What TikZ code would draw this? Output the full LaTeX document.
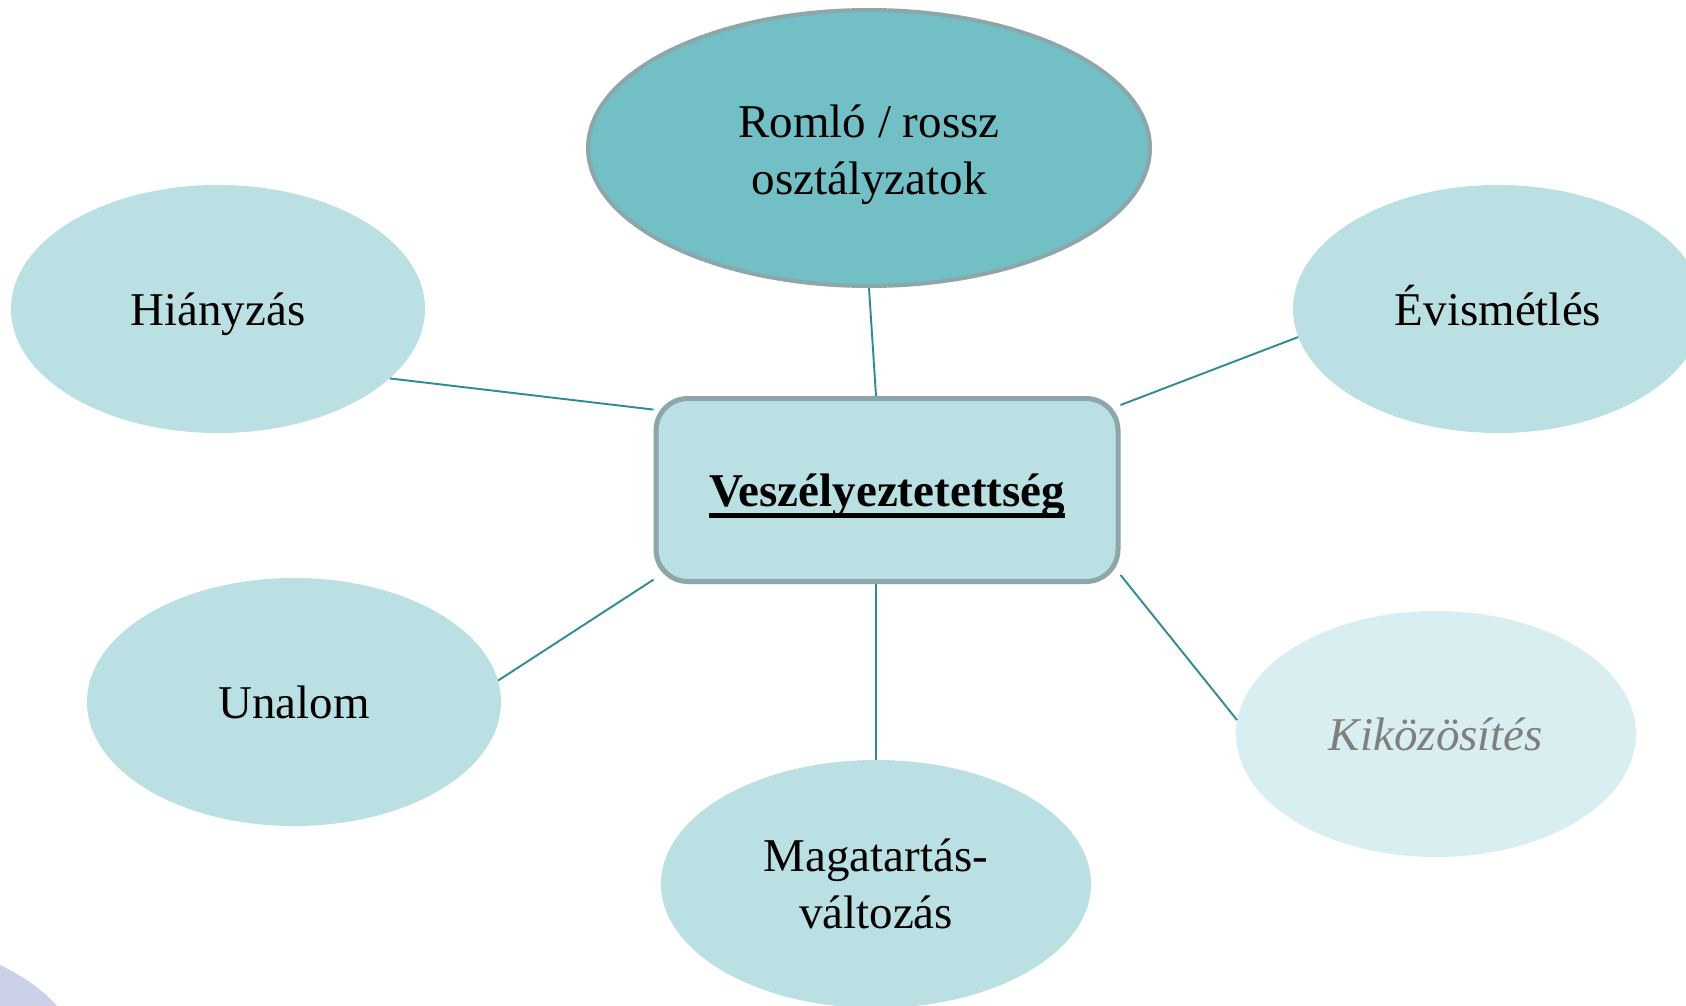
\documentclass[tikz,border=0pt]{standalone}
\usepackage{fontspec}
\setmainfont{Liberation Serif}
\usetikzlibrary{shapes.geometric}
\newcommand{\thickul}[1]{\setbox0\hbox{#1}\rlap{\raisebox{-11.5pt}{\rule{\wd0}{4.5pt}}}\box0}
\definecolor{ellfill}{HTML}{BAE0E3}
\definecolor{topfill}{HTML}{72BFC5}
\definecolor{palefill}{HTML}{D9EEF0}
\definecolor{bordgray}{HTML}{8CA6A9}
\definecolor{linkcol}{HTML}{2E8B92}
\definecolor{greytext}{HTML}{7F7F7F}
\definecolor{lavender}{HTML}{C9D0E8}
\tikzset{
  bigfont/.style={font=\fontsize{47}{57}\selectfont},
  bubble/.style={ellipse, fill=ellfill, draw=none, inner sep=0pt, align=center, bigfont},
  oneline/.style={text height=32pt, text depth=0pt},
  topbubble/.style={bubble, fill=topfill, draw=bordgray, line width=4pt},
  palebubble/.style={bubble, fill=palefill, text=greytext},
  centerbox/.style={rectangle, rounded corners=32pt, fill=ellfill, draw=bordgray, line width=5pt, inner sep=0pt, align=center, bigfont},
  link/.style={draw=linkcol, line width=1.9pt}
}
\begin{document}
\begin{tikzpicture}[x=1pt,y=-1pt]
\useasboundingbox (0,0) rectangle (1686,1006);
\clip (0,0) rectangle (1686,1006);
\fill[white] (0,0) rectangle (1686,1006);
\fill[lavender] (0,965) .. controls (25,977) and (45,992) .. (57,1006) -- (0,1006) -- cycle;

\node[topbubble, minimum width=562pt, minimum height=276pt] (rom) at (869,148)
  {\raisebox{-7pt}[\height][\depth]{\begin{tabular}{@{}c@{}}Romló / rossz\\osztályzatok\end{tabular}}};
\node[bubble, oneline, minimum width=414pt, minimum height=248pt] (hia) at (218,309) {Hiányzás};
\node[bubble, oneline, minimum width=410pt, minimum height=248pt] (evi) at (1498,309) {Évismétlés};
\node[bubble, oneline, minimum width=414pt, minimum height=248pt] (una) at (294,702) {Unalom};
\node[bubble, minimum width=430pt, minimum height=248pt] (mag) at (876,884) {Magatartás-\\változás};
\node[palebubble, oneline, minimum width=400pt, minimum height=246pt] (kik) at (1436,734) {\itshape Kiközösítés};
\node[centerbox, oneline, minimum width=462pt, minimum height=183pt] (box) at (887,490) {\thickul{\bfseries Veszélyeztetettség}};

\draw[link] (rom.south) -- ([xshift=-11pt]box.north);
\draw[link] (hia.-22.8) -- (box.161.8);
\draw[link] (evi.-172.5) -- (box.20);
\draw[link] (una.6.4) -- (box.201);
\draw[link] (mag.north) -- ([xshift=-11pt]box.south);
\draw[link] (kik.176.8) -- (box.-20.6);
\end{tikzpicture}
\end{document}
